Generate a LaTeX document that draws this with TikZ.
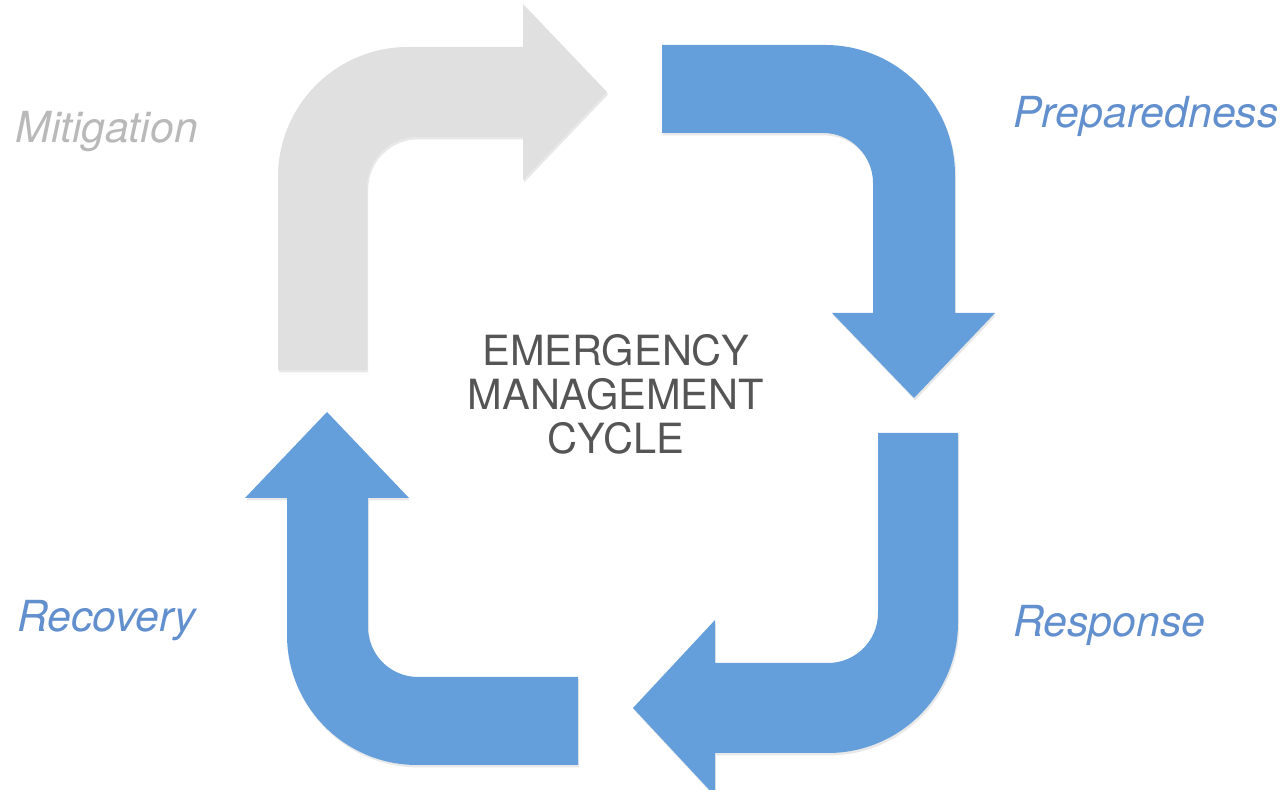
\documentclass[tikz,border=0pt]{standalone}
\usepackage{fontspec}
\setmainfont{TeX Gyre Heros}
\usetikzlibrary{shadows}
\definecolor{cycleblue}{RGB}{101,159,219}
\definecolor{cyclegray}{RGB}{224,224,224}
\definecolor{labelblue}{RGB}{98,143,205}
\definecolor{labelgray}{RGB}{185,185,185}
\definecolor{titlegray}{RGB}{85,85,85}

\begin{document}
\begin{tikzpicture}[x=0.5pt,y=0.5pt,
  phase/.style={drop shadow={opacity=0.18, shadow xshift=0.6pt, shadow yshift=-1.2pt}},
  phaselabel/.style={anchor=base west, inner sep=0pt, font=\fontsize{21.4}{25}\selectfont\itshape}]
  % Corner radii of the bent arrows
  \def\ro{65pt}
  \def\ri{25pt}
  \useasboundingbox (0,0) rectangle (1285,790);

  % Mitigation: grey arrow, up then right
  \fill[phase, cyclegray] (278,420) -- (278,613) arc (180:90:\ro) -- (523,743) -- (523,786)
    -- (607,698) -- (523,610) -- (523,653) -- (417,653) arc (90:180:\ri) -- (367,420) -- cycle;

  % Preparedness: right then down
  \fill[phase, cycleblue] (662,745) -- (825,745) arc (90:0:\ro) -- (955,477) -- (995,477)
    -- (914,392) -- (832,477) -- (873,477) -- (873,607) arc (0:90:\ri) -- (662,657) -- cycle;

  % Response: down then left
  \fill[phase, cycleblue] (958,357) -- (958,167) arc (0:-90:\ro) -- (715,37) -- (715,-6)
    -- (633,82) -- (715,170) -- (715,127) -- (828,127) arc (-90:0:\ri) -- (878,357) -- cycle;

  % Recovery: left then up
  \fill[phase, cycleblue] (578,25) -- (417,25) arc (270:180:\ro) -- (287,292) -- (245,292)
    -- (327,378) -- (409,292) -- (368,292) -- (368,163) arc (180:270:\ri) -- (578,113) -- cycle;

  % Phase labels
  \node[phaselabel, text=labelgray] (mitigation) at (15,647) {Mitigation};
  \node[phaselabel, text=labelblue] (preparedness) at (1013,662) {Preparedness};
  \node[phaselabel, text=labelblue] (response) at (1013,153) {Response};
  \node[phaselabel, text=labelblue] (recovery) at (17,158) {Recovery};

  % Title in the middle
  \node[align=center, text=titlegray, font=\fontsize{20.8}{22}\selectfont] (title) at (616,396)
    {EMERGENCY\\MANAGEMENT\\CYCLE};
\end{tikzpicture}
\end{document}
